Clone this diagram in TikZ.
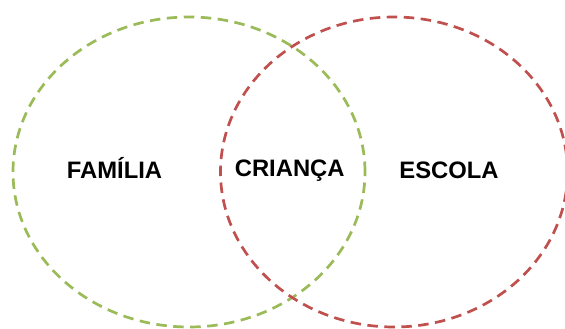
\documentclass[tikz,border=0pt]{standalone}
\usepackage{fontspec}
\setmainfont{Liberation Sans}
\usetikzlibrary{shapes.geometric}
\definecolor{vgreen}{HTML}{9BBB59}
\definecolor{vred}{HTML}{C0504D}
\tikzset{
  setcirc/.style={ellipse, draw, line width=2.7pt, dash pattern=on 10.5pt off 6.5pt, inner sep=0pt},
  setlabel/.style={font=\fontsize{23.8}{26}\selectfont\bfseries, anchor=base, inner sep=0pt}
}
\begin{document}
\begin{tikzpicture}[x=1pt,y=-1pt]
\useasboundingbox (0,0) rectangle (565,329);
\node[setcirc, vgreen, minimum width=352pt, minimum height=310pt] (familia) at (189,172) {};
\node[setcirc, vred, minimum width=347pt, minimum height=310pt] (escola) at (394,172) {};
\node[setlabel] (tfam) at (114.5,178.3) {FAMÍLIA};
\node[setlabel] (tcri) at (289.7,176.7) {CRIANÇA};
\node[setlabel] (tesc) at (449,178.3) {ESCOLA};
\end{tikzpicture}
\end{document}
